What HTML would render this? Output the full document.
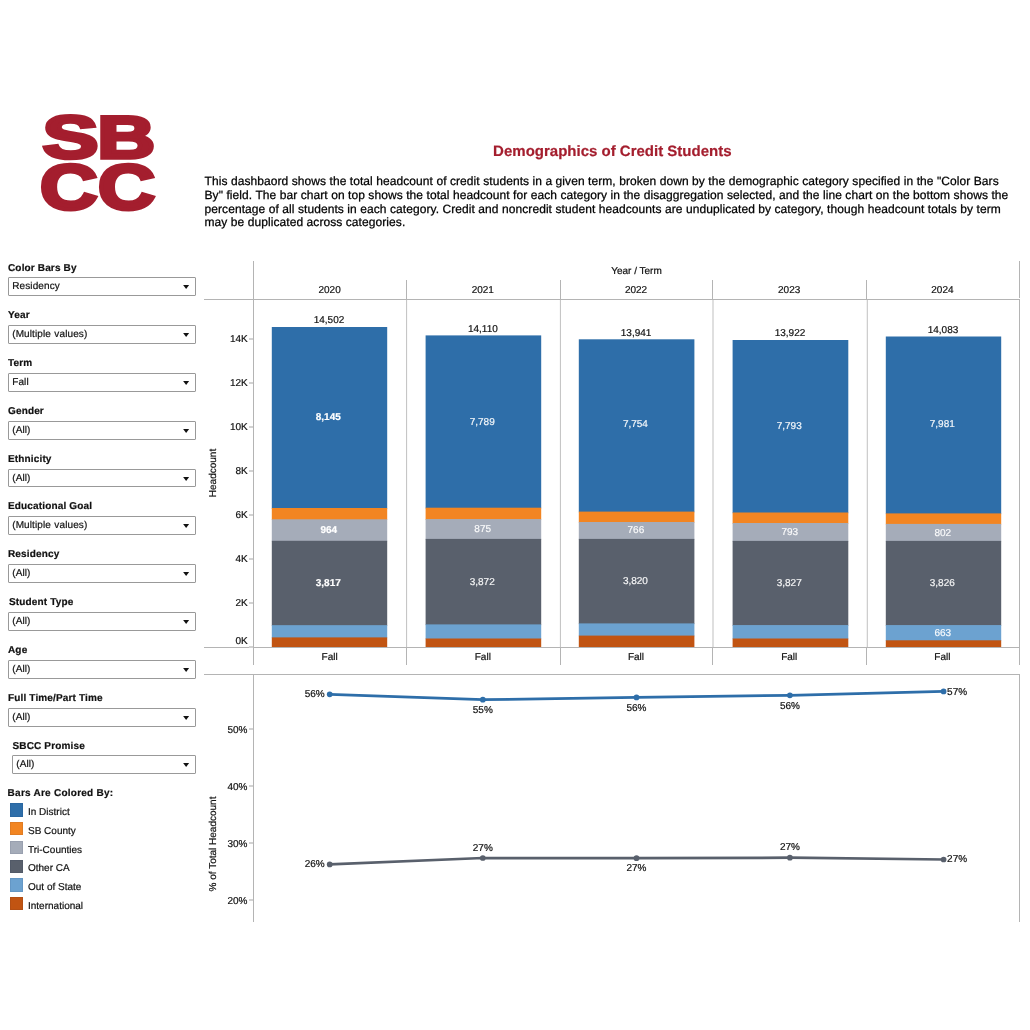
<!DOCTYPE html>
<html lang="en"><head><meta charset="utf-8"><title>Demographics of Credit Students</title>
<style>
html,body{margin:0;padding:0;background:#fff;}
body{text-rendering:geometricPrecision;-webkit-text-stroke:0.2px currentColor;width:1030px;height:1030px;position:relative;overflow:hidden;font-family:"Liberation Sans", sans-serif;color:#000;}
.abs{position:absolute;}
.t{position:absolute;white-space:nowrap;line-height:1;}
.lbl{position:absolute;white-space:nowrap;font-size:10px;font-weight:bold;line-height:12px;color:#111;letter-spacing:0.15px;}
.dd{position:absolute;box-sizing:border-box;border-radius:1px;height:19px;border:1px solid #999;background:#fff;font-size:10px;line-height:17px;padding-left:3.2px;color:#111;white-space:nowrap;letter-spacing:0.12px;word-spacing:0.4px;}
.dd span{display:inline-block;line-height:17px;}
.dd i{position:absolute;right:5px;top:7px;transform:translateX(-0.9px);width:0;height:0;border-left:3.5px solid transparent;border-right:3.5px solid transparent;border-top:4px solid #111;}
.sw{position:absolute;left:10px;width:13px;height:13px;box-shadow:inset 0 0 0 1px rgba(0,20,60,0.07);}
.lg{position:absolute;left:28px;font-size:10px;line-height:12px;white-space:nowrap;color:#111;}
.hl{position:absolute;height:1px;background:#b4b4b4;}
.vl{position:absolute;width:1px;background:#b4b4b4;}
.c{position:absolute;font-size:10px;line-height:12px;white-space:nowrap;text-align:center;transform:translateX(-50%);color:#111;}
.r{position:absolute;font-size:10px;line-height:12px;white-space:nowrap;text-align:right;color:#111;}
.w{color:#fff;}
.b{font-weight:bold;}
.wl{color:rgba(255,255,255,0.92);}
</style></head>
<body>
<svg class="abs" style="left:30px;top:105px" width="140" height="115" viewBox="30 105 140 115">
<g font-family='"Liberation Sans", sans-serif' font-weight="bold" fill="#a41e2e" stroke="#a41e2e" stroke-linejoin="miter" text-rendering="geometricPrecision"><text transform="translate(42.53,158.05) scale(1.3993,1.0069)" x="0" y="0" font-size="60.0" stroke-width="3.5">S</text><text transform="translate(97.27,158.05) scale(1.3369,0.9982)" x="0" y="0" font-size="60.0" stroke-width="3.5">B</text><text transform="translate(40.06,208.72) scale(1.3270,1.0613)" x="0" y="0" font-size="60.0" stroke-width="3.5">C</text><text transform="translate(97.96,208.72) scale(1.3176,1.0613)" x="0" y="0" font-size="60.0" stroke-width="3.5">C</text></g></svg>
<div class="t b" style="left:612.3px;top:143px;font-size:15px;line-height:17px;transform:translateX(-50%);color:#a41e2e">Demographics of Credit Students</div>
<div class="abs" style="left:204.5px;top:175px;font-size:12px;line-height:13.83px;white-space:nowrap;letter-spacing:0.075px;color:#000;-webkit-text-stroke:0.25px #000">This dashbaord shows the total headcount of credit students in a given term, broken down by the demographic category specified in the "Color Bars<br>By" field. The bar chart on top shows the total headcount for each category in the disaggregation selected, and the line chart on the bottom shows the<br>percentage of all students in each category. Credit and noncredit student headcounts are unduplicated by category, though headcount totals by term<br>may be duplicated across categories.</div>
<div class="lbl" style="left:8px;top:263px">Color Bars By</div>
<div class="dd" style="left:8px;top:277px;width:188px;height:19px""><span>Residency</span><i></i></div>
<div class="lbl" style="left:8px;top:310px">Year</div>
<div class="dd" style="left:8px;top:325px;width:188px;height:19px""><span>(Multiple values)</span><i></i></div>
<div class="lbl" style="left:8px;top:358px">Term</div>
<div class="dd" style="left:8px;top:373px;width:188px;height:19px""><span>Fall</span><i></i></div>
<div class="lbl" style="left:8px;top:406px">Gender</div>
<div class="dd" style="left:8px;top:421px;width:188px;height:19px""><span>(All)</span><i></i></div>
<div class="lbl" style="left:8px;top:454px">Ethnicity</div>
<div class="dd" style="left:8px;top:469px;width:188px;height:18px""><span>(All)</span><i></i></div>
<div class="lbl" style="left:8px;top:501px">Educational Goal</div>
<div class="dd" style="left:8px;top:516px;width:188px;height:19px""><span>(Multiple values)</span><i></i></div>
<div class="lbl" style="left:8px;top:549px">Residency</div>
<div class="dd" style="left:8px;top:564px;width:188px;height:19px""><span>(All)</span><i></i></div>
<div class="lbl" style="left:9px;top:597px">Student Type</div>
<div class="dd" style="left:8px;top:612px;width:188px;height:19px""><span>(All)</span><i></i></div>
<div class="lbl" style="left:8px;top:645px">Age</div>
<div class="dd" style="left:8px;top:660px;width:188px;height:19px""><span>(All)</span><i></i></div>
<div class="lbl" style="left:8px;top:693px">Full Time/Part Time</div>
<div class="dd" style="left:8px;top:708px;width:188px;height:19px""><span>(All)</span><i></i></div>
<div class="lbl" style="left:12.5px;top:741px">SBCC Promise</div>
<div class="dd" style="left:12px;top:755px;width:184px;height:19px""><span>(All)</span><i></i></div>
<div class="lbl" style="left:7.6px;top:788px;letter-spacing:0.25px">Bars Are Colored By:</div>
<div class="sw" style="top:803px;height:14px;background:#2e6ea9"></div><div class="lg" style="top:807px">In District</div>
<div class="sw" style="top:822px;height:13px;background:#f28522"></div><div class="lg" style="top:826px">SB County</div>
<div class="sw" style="top:841px;height:13px;background:#a5acb9"></div><div class="lg" style="top:845px">Tri-Counties</div>
<div class="sw" style="top:860px;height:13px;background:#59606c"></div><div class="lg" style="top:863px">Other CA</div>
<div class="sw" style="top:878px;height:14px;background:#6ca2d0"></div><div class="lg" style="top:882px">Out of State</div>
<div class="sw" style="top:897px;height:13px;background:#c15412"></div><div class="lg" style="top:901px">International</div>
<div class="vl" style="left:253px;top:261px;height:404px"></div>
<div class="vl" style="left:1019px;top:261px;height:37px"></div>
<div class="vl" style="left:1019px;top:299px;height:366px"></div>
<div class="hl" style="left:204px;top:299px;width:816px"></div>
<div class="hl" style="left:204px;top:647px;width:816px"></div>
<div class="hl" style="left:204px;top:674px;width:816px"></div>
<div class="vl" style="left:253px;top:674px;height:248px"></div>
<div class="vl" style="left:1019px;top:674px;height:248px"></div>
<div class="vl" style="left:406px;top:280px;height:19px"></div>
<div class="vl" style="left:406px;top:647px;height:18px"></div>
<div class="vl" style="left:560px;top:280px;height:19px"></div>
<div class="vl" style="left:560px;top:647px;height:18px"></div>
<div class="vl" style="left:712px;top:280px;height:19px"></div>
<div class="vl" style="left:712px;top:647px;height:18px"></div>
<div class="vl" style="left:866px;top:280px;height:19px"></div>
<div class="vl" style="left:866px;top:647px;height:18px"></div>
<svg class="abs" style="left:0;top:0" width="1030" height="660" viewBox="0 0 1030 660"><rect x="406.00" y="300" width="1.1" height="347" fill="#c6c6c6"/><rect x="559.90" y="300" width="1.1" height="347" fill="#c6c6c6"/><rect x="712.45" y="300" width="1.1" height="347" fill="#c6c6c6"/><rect x="866.75" y="300" width="1.1" height="347" fill="#c6c6c6"/></svg>
<div class="c" style="left:636.5px;top:265.5px">Year / Term</div>
<div class="c" style="left:329.6px;top:284.5px">2020</div>
<div class="c" style="left:329.6px;top:651.5px">Fall</div>
<div class="c" style="left:482.8px;top:284.5px">2021</div>
<div class="c" style="left:482.8px;top:651.5px">Fall</div>
<div class="c" style="left:636.0px;top:284.5px">2022</div>
<div class="c" style="left:636.0px;top:651.5px">Fall</div>
<div class="c" style="left:789.2px;top:284.5px">2023</div>
<div class="c" style="left:789.2px;top:651.5px">Fall</div>
<div class="c" style="left:942.4px;top:284.5px">2024</div>
<div class="c" style="left:942.4px;top:651.5px">Fall</div>
<div class="hl" style="left:249px;top:646px;width:4px;height:2px;background:#d2d2d2"></div>
<div class="r" style="left:210px;width:37.8px;top:636.0px">0K</div>
<div class="hl" style="left:249px;top:602px;width:4px;height:2px;background:#d2d2d2"></div>
<div class="r" style="left:210px;width:37.8px;top:598.4px">2K</div>
<div class="hl" style="left:249px;top:558px;width:4px;height:2px;background:#d2d2d2"></div>
<div class="r" style="left:210px;width:37.8px;top:554.4px">4K</div>
<div class="hl" style="left:249px;top:514px;width:4px;height:2px;background:#d2d2d2"></div>
<div class="r" style="left:210px;width:37.8px;top:510.3px">6K</div>
<div class="hl" style="left:249px;top:470px;width:4px;height:2px;background:#d2d2d2"></div>
<div class="r" style="left:210px;width:37.8px;top:466.3px">8K</div>
<div class="hl" style="left:249px;top:426px;width:4px;height:2px;background:#d2d2d2"></div>
<div class="r" style="left:210px;width:37.8px;top:422.2px">10K</div>
<div class="hl" style="left:249px;top:382px;width:4px;height:2px;background:#d2d2d2"></div>
<div class="r" style="left:210px;width:37.8px;top:378.1px">12K</div>
<div class="hl" style="left:249px;top:338px;width:4px;height:2px;background:#d2d2d2"></div>
<div class="r" style="left:210px;width:37.8px;top:334.1px">14K</div>
<div class="t" style="left:213.9px;top:472.5px;font-size:10px;line-height:12px;transform:translate(-50%,-50%) rotate(-90deg);color:#111">Headcount</div>
<svg class="abs" style="left:0;top:0" width="1030" height="660" viewBox="0 0 1030 660"><rect x="271.8" y="327.0" width="115.4" height="181.7" fill="#2e6ea9"/><rect x="271.8" y="508.0" width="115.4" height="12.0" fill="#f28522"/><rect x="271.8" y="519.3" width="115.4" height="22.2" fill="#a5acb9"/><rect x="271.8" y="540.8" width="115.4" height="85.1" fill="#59606c"/><rect x="271.8" y="625.2" width="115.4" height="12.9" fill="#6ca2d0"/><rect x="271.8" y="637.4" width="115.4" height="9.6" fill="#c15412"/><rect x="425.6" y="335.4" width="115.6" height="173.0" fill="#2e6ea9"/><rect x="425.6" y="507.7" width="115.6" height="12.1" fill="#f28522"/><rect x="425.6" y="519.1" width="115.6" height="20.5" fill="#a5acb9"/><rect x="425.6" y="538.9" width="115.6" height="86.2" fill="#59606c"/><rect x="425.6" y="624.4" width="115.6" height="14.8" fill="#6ca2d0"/><rect x="425.6" y="638.5" width="115.6" height="8.5" fill="#c15412"/><rect x="578.8" y="339.3" width="115.6" height="173.0" fill="#2e6ea9"/><rect x="578.8" y="511.6" width="115.6" height="11.1" fill="#f28522"/><rect x="578.8" y="522.0" width="115.6" height="17.6" fill="#a5acb9"/><rect x="578.8" y="538.9" width="115.6" height="85.2" fill="#59606c"/><rect x="578.8" y="623.4" width="115.6" height="12.9" fill="#6ca2d0"/><rect x="578.8" y="635.6" width="115.6" height="11.4" fill="#c15412"/><rect x="732.6" y="340.0" width="115.7" height="173.2" fill="#2e6ea9"/><rect x="732.6" y="512.5" width="115.7" height="11.2" fill="#f28522"/><rect x="732.6" y="523.0" width="115.7" height="18.6" fill="#a5acb9"/><rect x="732.6" y="540.9" width="115.7" height="84.9" fill="#59606c"/><rect x="732.6" y="625.1" width="115.7" height="14.1" fill="#6ca2d0"/><rect x="732.6" y="638.5" width="115.7" height="8.5" fill="#c15412"/><rect x="885.8" y="336.5" width="115.4" height="177.6" fill="#2e6ea9"/><rect x="885.8" y="513.4" width="115.4" height="11.2" fill="#f28522"/><rect x="885.8" y="523.9" width="115.4" height="17.7" fill="#a5acb9"/><rect x="885.8" y="540.9" width="115.4" height="84.9" fill="#59606c"/><rect x="885.8" y="625.1" width="115.4" height="15.9" fill="#6ca2d0"/><rect x="885.8" y="640.3" width="115.4" height="6.7" fill="#c15412"/></svg>
<div class="c w b" style="left:328.3px;top:412px">8,145</div>
<div class="c w b" style="left:328.8px;top:525px">964</div>
<div class="c w b" style="left:328.3px;top:578px">3,817</div>
<div class="c" style="left:329.0px;top:315px">14,502</div>
<div class="c w wl" style="left:482.2px;top:417px">7,789</div>
<div class="c w wl" style="left:482.7px;top:524px">875</div>
<div class="c w wl" style="left:482.2px;top:577px">3,872</div>
<div class="c" style="left:482.9px;top:324px">14,110</div>
<div class="c w wl" style="left:635.4px;top:419px">7,754</div>
<div class="c w wl" style="left:635.9px;top:525px">766</div>
<div class="c w wl" style="left:635.4px;top:576px">3,820</div>
<div class="c" style="left:636.1px;top:328px">13,941</div>
<div class="c w wl" style="left:789.2px;top:421px">7,793</div>
<div class="c w wl" style="left:789.8px;top:527px">793</div>
<div class="c w wl" style="left:789.2px;top:578px">3,827</div>
<div class="c" style="left:790.0px;top:328px">13,922</div>
<div class="c w wl" style="left:942.3px;top:419px">7,981</div>
<div class="c w wl" style="left:942.8px;top:528px">802</div>
<div class="c w wl" style="left:942.3px;top:578px">3,826</div>
<div class="c w wl" style="left:942.8px;top:628px">663</div>
<div class="c" style="left:943.0px;top:325px">14,083</div>
<div class="hl" style="left:249px;top:728px;width:4px;height:2px;background:#d2d2d2"></div>
<div class="r" style="left:210px;width:37.4px;top:725.2px">50%</div>
<div class="hl" style="left:249px;top:785px;width:4px;height:2px;background:#d2d2d2"></div>
<div class="r" style="left:210px;width:37.4px;top:782.2px">40%</div>
<div class="hl" style="left:249px;top:842px;width:4px;height:2px;background:#d2d2d2"></div>
<div class="r" style="left:210px;width:37.4px;top:839.2px">30%</div>
<div class="hl" style="left:249px;top:899px;width:4px;height:2px;background:#d2d2d2"></div>
<div class="r" style="left:210px;width:37.4px;top:896.2px">20%</div>
<div class="t" style="left:213.9px;top:843.6px;font-size:10px;line-height:12px;transform:translate(-50%,-50%) rotate(-90deg);color:#111">% of Total Headcount</div>
<svg class="abs" style="left:0;top:0" width="1030" height="1030" viewBox="0 0 1030 1030"><polyline fill="none" stroke="#2e6ea9" stroke-width="2.7" stroke-linejoin="round" stroke-linecap="round" points="329.7,694.3 482.8,699.7 636.5,697.4 789.9,695.3 943.6,691.4"/><circle cx="329.7" cy="694.3" r="2.85" fill="#2e6ea9"/><circle cx="482.8" cy="699.7" r="2.85" fill="#2e6ea9"/><circle cx="636.5" cy="697.4" r="2.85" fill="#2e6ea9"/><circle cx="789.9" cy="695.3" r="2.85" fill="#2e6ea9"/><circle cx="943.6" cy="691.4" r="2.85" fill="#2e6ea9"/><polyline fill="none" stroke="#59606c" stroke-width="2.7" stroke-linejoin="round" stroke-linecap="round" points="329.7,864.4 482.8,858.0 636.5,858.2 789.9,857.7 943.6,859.5"/><circle cx="329.7" cy="864.4" r="2.85" fill="#59606c"/><circle cx="482.8" cy="858.0" r="2.85" fill="#59606c"/><circle cx="636.5" cy="858.2" r="2.85" fill="#59606c"/><circle cx="789.9" cy="857.7" r="2.85" fill="#59606c"/><circle cx="943.6" cy="859.5" r="2.85" fill="#59606c"/></svg>
<div class="r" style="left:284.7px;width:40px;top:689px">56%</div>
<div class="c" style="left:482.8px;top:705px">55%</div>
<div class="c" style="left:636.5px;top:703px">56%</div>
<div class="c" style="left:789.9px;top:701px">56%</div>
<div class="r" style="left:947.1px;top:687px;text-align:left">57%</div>
<div class="r" style="left:284.7px;width:40px;top:859px">26%</div>
<div class="c" style="left:482.8px;top:843px">27%</div>
<div class="c" style="left:636.5px;top:863px">27%</div>
<div class="c" style="left:789.9px;top:842px">27%</div>
<div class="r" style="left:947.1px;top:854px;text-align:left">27%</div>
</body></html>
